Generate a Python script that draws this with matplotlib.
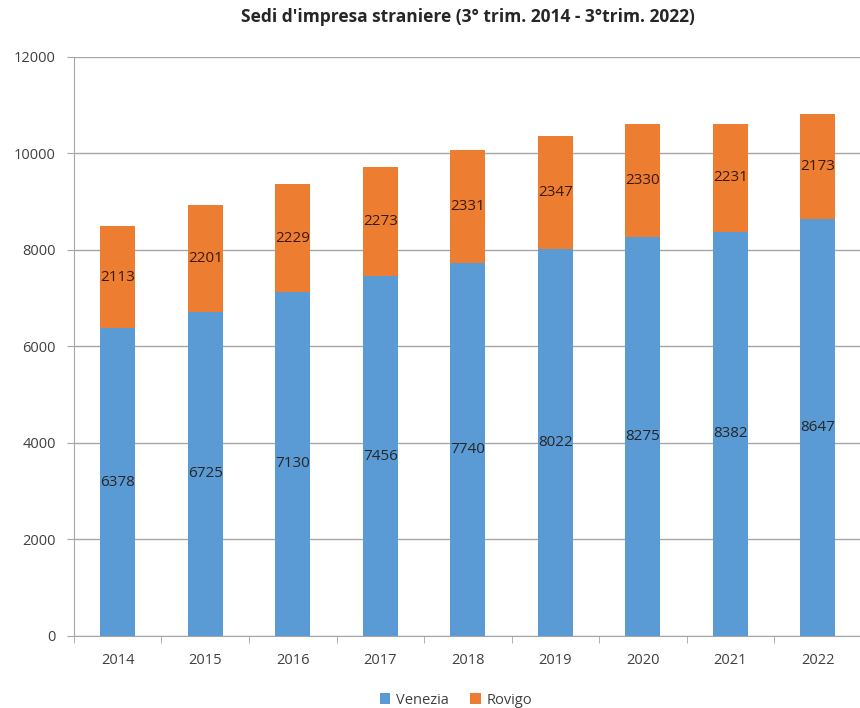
import matplotlib.pyplot as plt
import numpy as np

anni = ['2014', '2015', '2016', '2017', '2018', '2019', '2020', '2021', '2022']
venezia = [6378, 6725, 7130, 7456, 7740, 8022, 8275, 8382, 8647]
rovigo = [2113, 2201, 2229, 2273, 2331, 2347, 2330, 2231, 2173]

plt.rcParams['font.family'] = ['Open Sans', 'DejaVu Sans']

fig = plt.figure(figsize=(8.6, 7.08), dpi=100)
ax = fig.add_axes([0.086, 0.1017, 0.916, 0.8178])

x = np.arange(len(anni))
b1 = ax.bar(x, venezia, width=0.40, color='#5B9BD5', label='Venezia', zorder=3)
b2 = ax.bar(x, rovigo, width=0.40, bottom=venezia, color='#ED7D31', label='Rovigo', zorder=3)

# labels in the middle of each segment
for i in range(len(anni)):
    ax.text(x[i], venezia[i] / 2, str(venezia[i]), ha='center', va='center',
            fontsize=11, color='#262626', zorder=4)
    ax.text(x[i], venezia[i] + rovigo[i] / 2, str(rovigo[i]), ha='center', va='center',
            fontsize=11, color='#3a1a05', zorder=4)

ax.set_xlim(-0.5, len(anni) - 0.5)
ax.set_ylim(0, 12000)
ax.set_yticks(range(0, 12001, 2000))
ax.yaxis.grid(True, color='#a6a6a6', linewidth=1, zorder=0)

# category ticks sit between the bars
ax.set_xticks(x)
ax.set_xticklabels(anni, fontsize=10.5, color='#404040')
ax.set_xticks(np.arange(-0.5, len(anni), 1), minor=True)
ax.tick_params(axis='x', which='major', length=0, pad=12)
ax.tick_params(axis='x', which='minor', length=5, color='#a6a6a6', direction='out')
ax.tick_params(axis='y', length=5, color='#a6a6a6', labelsize=10.5, labelcolor='#404040', pad=8)

for s in ['top', 'right']:
    ax.spines[s].set_visible(False)
ax.spines['left'].set_color('#a6a6a6')
ax.spines['bottom'].set_color('#a6a6a6')

ax.set_title("Sedi d'impresa straniere (3° trim. 2014 - 3°trim. 2022)",
             fontsize=12.5, fontweight='bold', color='#262626', pad=25)

fig.legend(handles=[b1, b2], loc='lower center', bbox_to_anchor=(0.53, -0.018), ncol=2,
           frameon=False, fontsize=10.5, handlelength=0.7, handleheight=0.7,
           handletextpad=0.4, columnspacing=1.5, labelcolor='#404040')

fig.savefig('out.png', dpi=100)
